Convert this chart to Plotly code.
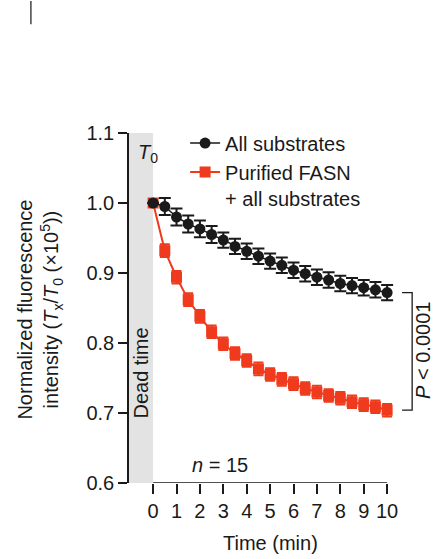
import plotly.graph_objects as go

# time points (min)
time_min = [0, 0.5, 1, 1.5, 2, 2.5, 3, 3.5, 4, 4.5, 5, 5.5, 6, 6.5, 7, 7.5, 8, 8.5, 9, 9.5, 10]

# all substrates (black)
all_sub = [1.000, 0.995, 0.980, 0.970, 0.963, 0.955, 0.947, 0.938, 0.931, 0.924, 0.917,
           0.911, 0.904, 0.899, 0.894, 0.890, 0.885, 0.882, 0.879, 0.876, 0.872]
all_sub_err = [0.0, 0.012, 0.012, 0.012, 0.012, 0.012, 0.011, 0.011, 0.011, 0.011, 0.011,
               0.011, 0.011, 0.011, 0.011, 0.011, 0.011, 0.011, 0.011, 0.011, 0.011]

# purified FASN + all substrates (red)
fasn = [1.000, 0.932, 0.894, 0.862, 0.838, 0.816, 0.799, 0.785, 0.775, 0.763, 0.755,
        0.748, 0.742, 0.735, 0.730, 0.725, 0.721, 0.716, 0.712, 0.709, 0.704]
fasn_err = [0.0, 0.009, 0.009, 0.009, 0.009, 0.009, 0.009, 0.009, 0.009, 0.009, 0.009,
            0.009, 0.009, 0.009, 0.009, 0.009, 0.009, 0.009, 0.009, 0.009, 0.009]

x_ticks = [0, 1, 2, 3, 4, 5, 6, 7, 8, 9, 10]
y_ticks = [0.6, 0.7, 0.8, 0.9, 1.0, 1.1]

RED = "#ef3a1d"
INK = "#1a1a1a"
FONT = "Liberation Sans"

fig = go.Figure()

fig.add_trace(go.Scatter(
    x=time_min, y=fasn, name="Purified FASN<br>+ all substrates", legendrank=2,
    mode="lines+markers",
    line=dict(color=RED, width=2),
    marker=dict(symbol="square", size=11, color=RED),
    error_y=dict(type="data", array=fasn_err, color=RED, thickness=2, width=5),
))
fig.add_trace(go.Scatter(
    x=time_min, y=all_sub, name="All substrates", legendrank=1,
    mode="lines+markers",
    line=dict(color=INK, width=1.5),
    marker=dict(symbol="circle", size=11, color=INK),
    error_y=dict(type="data", array=all_sub_err, color=INK, thickness=2, width=6),
))

# dead time band
fig.add_shape(type="rect", x0=-1.03, x1=0, y0=0.6, y1=1.1, xref="x", yref="y",
              fillcolor="#e3e3e3", line_width=0, layer="below")
# x axis line from 0 to 10
fig.add_shape(type="line", x0=0, x1=10, y0=0.6, y1=0.6, xref="x", yref="y",
              line=dict(color=INK, width=1.5))
# significance bracket
bx0, bx1 = 10.64, 11.07
fig.add_shape(type="path", xref="x", yref="y",
              path=f"M {bx0} {all_sub[-1]} L {bx1} {all_sub[-1]} L {bx1} {fasn[-1]} L {bx0} {fasn[-1]}",
              line=dict(color=INK, width=1.3))
# stray mark at top left
fig.add_shape(type="line", xref="paper", yref="paper", x0=-0.327, x1=-0.327, y0=1.311, y1=1.377,
              line=dict(color="#444444", width=1.5))

fig.add_annotation(x=-0.2, y=1.071, text="<i>T</i><sub>0</sub>", showarrow=False,
                   font=dict(size=20, color=INK))
fig.add_annotation(x=-0.5, y=0.757, text="Dead time", textangle=-90, showarrow=False,
                   font=dict(size=20, color=INK))
fig.add_annotation(x=1.58, y=0.626, text="<i>n</i> = 15", xanchor="left", showarrow=False,
                   font=dict(size=20, color=INK))
fig.add_annotation(x=11.5, y=0.789, text="<i>P</i> < 0.0001", textangle=-90, showarrow=False,
                   font=dict(size=20, color=INK))
fig.add_annotation(x=5, y=-0.208, yref="paper", text="Time (min)", showarrow=False,
                   font=dict(size=20, color=INK))
fig.add_annotation(xref="paper", yref="paper", x=-0.39, y=0.494, textangle=-90,
                   text="Normalized fluorescence<br>intensity (<i>T</i><sub>x</sub>/<i>T</i><sub>0</sub> (×10<sup>5</sup>))",
                   showarrow=False, font=dict(size=20, color=INK))

fig.update_xaxes(range=[-1.03, 11.79], tickvals=x_ticks, ticks="outside", ticklen=10,
                 tickwidth=1.5, tickcolor=INK, showline=False, showgrid=False, zeroline=False,
                 tickfont=dict(size=20, color=INK))
fig.update_yaxes(range=[0.6, 1.1], tickvals=y_ticks, tickformat=".1f", ticks="outside",
                 ticklen=9, tickwidth=1.5, tickcolor=INK, showline=True, linecolor=INK,
                 linewidth=1.5, showgrid=False, zeroline=False, tickfont=dict(size=20, color=INK))

fig.update_layout(
    width=434, height=559,
    margin=dict(l=129, r=5, t=133, b=76),
    paper_bgcolor="white", plot_bgcolor="white",
    font=dict(family=FONT, size=20, color=INK),
    legend=dict(x=0.187, y=1.027, xanchor="left", yanchor="top", bgcolor="rgba(0,0,0,0)",
                itemwidth=30, valign="top", tracegroupgap=0, font=dict(size=20)),
)

# drop the page margin so the figure fills the window without scrollbars
fig.write_html("out.html", config={"displayModeBar": False},
               post_script="document.body.style.margin='0';document.body.style.overflow='hidden';")
